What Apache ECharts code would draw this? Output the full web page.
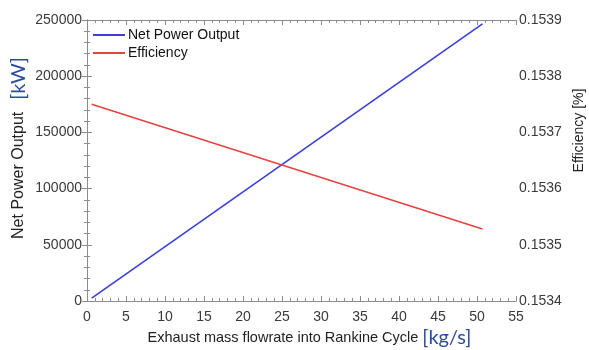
<!DOCTYPE html>
<html>
<head>
<meta charset="utf-8">
<script src="https://cdn.jsdelivr.net/npm/echarts@6/dist/echarts.min.js"></script>
<style>
  html, body { margin: 0; padding: 0; background: #fff; }
  #chart { width: 589px; height: 350px; }
</style>
</head>
<body>
<div id="chart"></div>
<script>
// Exhaust mass flowrate (kg/s) at the ends of each straight line
const flowrate = [0.6, 50.7];
// Net power output (kW)
const netPower = [2500, 246500];
// Cycle efficiency
const efficiency = [0.15375, 0.153528];

const seriesNames = ['Net Power Output', 'Efficiency'];
const seriesColors = ['#3a3fd6', '#e8423f'];

const axisGray = '#8c8c8c';
const labelColor = '#3a3a3a';
const baseFont = 'Liberation Sans, Arial, sans-serif';

const unitStyle = {
  fontFamily: 'Lato, Open Sans, sans-serif',
  fontSize: 20,
  color: '#2b4c9a'
};

function frameAxis(extra) {
  return Object.assign({
    axisLine: { show: true, lineStyle: { color: axisGray, width: 1 } },
    axisTick: { show: true, inside: true, length: 5, lineStyle: { color: axisGray } },
    minorTick: { show: true, splitNumber: 5, length: 3, lineStyle: { color: axisGray } },
    splitLine: { show: false },
    nameMoveOverlap: false,
    axisLabel: { color: labelColor, fontFamily: baseFont, fontSize: 14 }
  }, extra);
}

const chart = echarts.init(document.getElementById('chart'), null, { renderer: 'canvas' });

chart.setOption({
  animation: false,
  backgroundColor: '#fff',
  grid: { left: 87, right: 73, top: 20, bottom: 49, containLabel: false, outerBoundsMode: 'none' },
  legend: {
    orient: 'vertical',
    left: 93,
    top: 28,
    padding: 0,
    icon: 'rect',
    itemWidth: 32,
    itemHeight: 2,
    itemGap: 4,
    textStyle: { fontFamily: baseFont, fontSize: 14, color: '#111', padding: [0, 0, 0, -2] },
    data: seriesNames
  },
  xAxis: [
    frameAxis({
      type: 'value',
      min: 0, max: 55, interval: 5,
      name: '{p|}{t|Exhaust mass flowrate into Rankine Cycle }{u|[kg/s]}',
      nameLocation: 'middle',
      nameGap: 27,
      nameTextStyle: {
        rich: {
          p: { width: 16 },
          t: { fontFamily: baseFont, fontSize: 14.5, color: '#222' },
          u: unitStyle
        }
      },
      axisLabel: { color: labelColor, fontFamily: baseFont, fontSize: 14, margin: 9 }
    }),
    frameAxis({
      type: 'value',
      position: 'top',
      min: 0, max: 55, interval: 5,
      axisLabel: { show: false }
    })
  ],
  yAxis: [
    frameAxis({
      type: 'value',
      position: 'left',
      min: 0, max: 250000, interval: 50000,
      name: '{p|}{t|Net Power Output}{g|}{u|[kW]}',
      nameLocation: 'middle',
      nameRotate: 90,
      nameGap: 58,
      nameTextStyle: {
        rich: {
          p: { width: 25 },
          g: { width: 12 },
          t: { fontFamily: baseFont, fontSize: 16, color: '#222' },
          u: unitStyle
        }
      },
      axisLabel: {
        color: labelColor, fontFamily: baseFont, fontSize: 14, margin: 5,
        formatter: v => String(v)
      }
    }),
    frameAxis({
      type: 'value',
      position: 'right',
      min: 0.1534, max: 0.1539, interval: 0.0001,
      name: 'Efficiency [%]',
      nameLocation: 'middle',
      nameRotate: 90,
      nameGap: 56,
      nameTextStyle: {
        fontFamily: baseFont, fontSize: 14, color: '#222',
        padding: [0, 0, 0, 60]
      },
      axisLabel: {
        color: labelColor, fontFamily: baseFont, fontSize: 14, margin: 3,
        formatter: v => v.toFixed(4)
      }
    })
  ],
  series: [
    {
      name: seriesNames[0],
      type: 'line',
      xAxisIndex: 0,
      yAxisIndex: 0,
      data: flowrate.map((x, i) => [x, netPower[i]]),
      showSymbol: false,
      symbol: 'none',
      lineStyle: { color: seriesColors[0], width: 1.6 },
      itemStyle: { color: seriesColors[0] }
    },
    {
      name: seriesNames[1],
      type: 'line',
      xAxisIndex: 0,
      yAxisIndex: 1,
      data: flowrate.map((x, i) => [x, efficiency[i]]),
      showSymbol: false,
      symbol: 'none',
      lineStyle: { color: seriesColors[1], width: 1.6 },
      itemStyle: { color: seriesColors[1] }
    }
  ]
});
</script>
</body>
</html>
